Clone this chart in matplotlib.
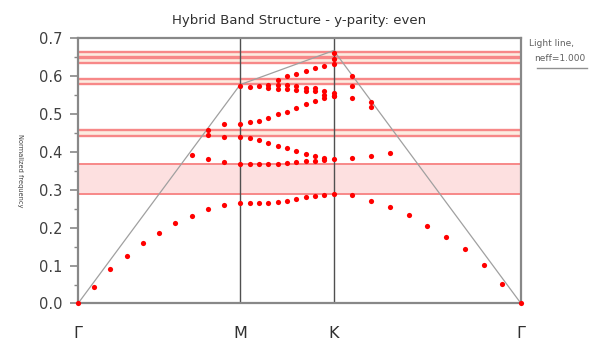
import numpy as np
import matplotlib
matplotlib.use("Agg")
import matplotlib.pyplot as plt

# ---------------- data ----------------
sym_labels = ["Γ", "M", "K", "Γ"]
seg_lengths = [1 / np.sqrt(3), 1 / 3, 2 / 3]   # Γ-M, M-K, K-Γ in 2π/a
n_steps = 10

nan = np.nan
band1 = [0.000, 0.043, 0.090, 0.125, 0.159, 0.185, 0.212, 0.231, 0.249, 0.260, 0.264,
         0.264, 0.265, 0.266, 0.268, 0.271, 0.275, 0.280, 0.284, 0.287, 0.289,
         0.286, 0.271, 0.254, 0.232, 0.205, 0.176, 0.143, 0.102, 0.051, 0.000]
band2 = [nan, nan, nan, nan, nan, nan, nan, 0.392, 0.380, 0.372, 0.367,
         0.367, 0.367, 0.367, 0.368, 0.370, 0.372, 0.375, 0.377, 0.379, 0.380,
         0.383, 0.389, 0.398, nan, nan, nan, nan, nan, nan, nan]
band3 = [nan, nan, nan, nan, nan, nan, nan, nan, 0.443, 0.440, 0.440,
         0.437, 0.431, 0.424, 0.416, 0.410, 0.402, 0.394, 0.389, 0.384, nan,
         nan, nan, nan, nan, nan, nan, nan, nan, nan, nan]
band4 = [nan, nan, nan, nan, nan, nan, nan, nan, 0.458, 0.474, 0.474,
         0.478, 0.482, 0.490, 0.499, 0.506, 0.515, 0.525, 0.533, 0.541, 0.547,
         0.541, 0.519, nan, nan, nan, nan, nan, nan, nan, nan]
band5 = [nan, nan, nan, nan, nan, nan, nan, nan, nan, nan, 0.573,
         0.571, 0.573, 0.568, 0.565, 0.565, 0.563, 0.561, 0.559, 0.550, 0.546,
         nan, nan, nan, nan, nan, nan, nan, nan, nan, nan]
band6 = [nan, nan, nan, nan, nan, nan, nan, nan, nan, nan, nan,
         nan, nan, 0.577, 0.577, 0.577, 0.574, 0.568, 0.567, 0.561, 0.556,
         0.574, 0.530, nan, nan, nan, nan, nan, nan, nan, nan]
band7 = [nan, nan, nan, nan, nan, nan, nan, nan, nan, nan, nan,
         nan, nan, nan, 0.590, 0.600, 0.606, 0.613, 0.620, 0.627, 0.632,
         0.600, nan, nan, nan, nan, nan, nan, nan, nan, nan]
band8 = [nan] * 20 + [0.644] + [nan] * 10
band9 = [nan] * 20 + [0.660] + [nan] * 10
bands = [band1, band2, band3, band4, band5, band6, band7, band8, band9]

light_line = [0.0, 0.577, 0.667, 0.0]        # at Γ, M, K, Γ

gap_big = (0.290, 0.368)
gaps_thin = [(0.441, 0.458), (0.579, 0.593), (0.634, 0.646), (0.650, 0.662)]

# ---------------- geometry ----------------
sym_x = np.concatenate([[0], np.cumsum(seg_lengths)])
kx = np.concatenate([np.linspace(sym_x[i], sym_x[i + 1], n_steps + 1)[:-1]
                     for i in range(3)] + [[sym_x[-1]]])

fig = plt.figure(figsize=(6.01, 3.42), dpi=100)
ax = fig.add_axes([0.1298, 0.1126, 0.7371, 0.7763])

ax.set_xlim(sym_x[0], sym_x[-1])
ax.set_ylim(0, 0.7)

# band gaps
ax.axhspan(*gap_big, color="#fde0e0", zorder=0, lw=0)
for y in gap_big:
    ax.axhline(y, color="#f78888", lw=1.4, zorder=1)
for lo, hi in gaps_thin:
    ax.axhspan(lo, hi, color="#fcece0", zorder=0, lw=0)
    ax.axhline(lo, color="#f78888", lw=1.7, zorder=1)
    ax.axhline(hi, color="#f78888", lw=1.7, zorder=1)

# symmetry lines
for xv in sym_x[1:-1]:
    ax.axvline(xv, color="#505050", lw=1.0, zorder=2)

# light line
ax.plot(sym_x, light_line, color="#a0a0a0", lw=0.9, zorder=2)

# bands
for b in bands:
    ax.scatter(kx, b, s=14, color="#ff0000", lw=0, zorder=3, clip_on=False)

# axes styling
for sp in ax.spines.values():
    sp.set_color("#888888")
    sp.set_linewidth(1.6)

ax.set_yticks(np.arange(0, 0.71, 0.1))
ax.set_yticklabels([f"{v:.1f}" for v in np.arange(0, 0.71, 0.1)],
                   fontsize=10.5, color="#404040")
ax.set_yticks(np.arange(0.05, 0.7, 0.1), minor=True)
ax.tick_params(axis="y", which="major", length=6, width=1.2, color="#888888", pad=5)
ax.tick_params(axis="y", which="minor", length=3, width=1.0, color="#888888")

ax.set_xticks(sym_x)
ax.set_xticklabels(sym_labels, fontsize=11.5, color="#303030")
ax.tick_params(axis="x", length=0, pad=16)

ax.set_title("Hybrid Band Structure - y-parity: even", fontsize=9.5,
             color="#303030", pad=10)

fig.text(0.034, 0.5, "Normalized frequency", rotation=-90, fontsize=4.8,
         color="#404040", ha="center", va="center")

fig.text(0.880, 0.872, "Light line,", fontsize=6.5, color="#606060", ha="left", va="center")
fig.text(0.888, 0.830, "neff=1.000", fontsize=6.5, color="#606060", ha="left", va="center")
fig.add_artist(plt.Line2D([0.893, 0.977], [0.800, 0.800], color="#909090", lw=1.0,
                          transform=fig.transFigure))

fig.savefig("out.png", dpi=100)
